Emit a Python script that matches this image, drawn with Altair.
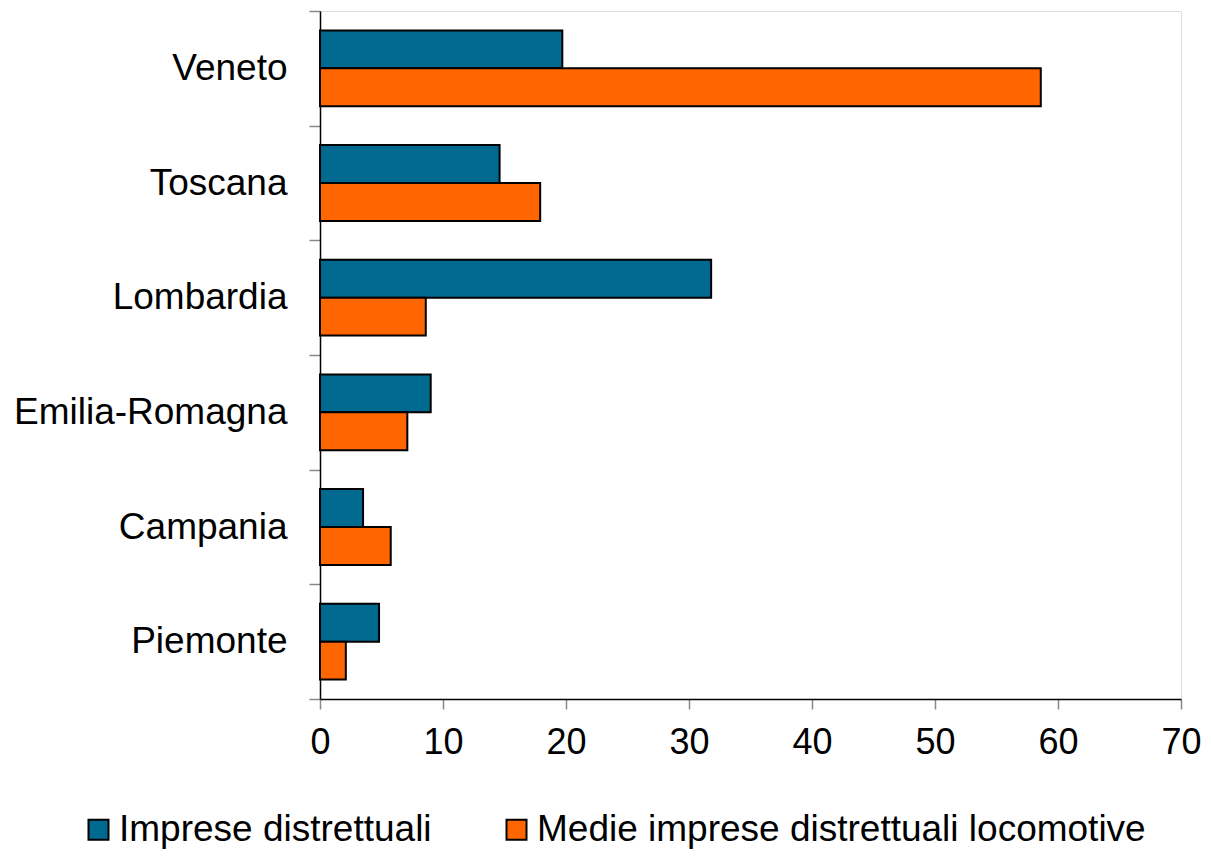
import altair as alt
import pandas as pd

regions = ["Veneto", "Toscana", "Lombardia", "Emilia-Romagna", "Campania", "Piemonte"]
series = ["Imprese distrettuali", "Medie imprese distrettuali locomotive"]
imprese = [19.7, 14.6, 31.8, 9.0, 3.5, 4.8]
medie = [58.6, 17.9, 8.6, 7.1, 5.75, 2.1]
x_ticks = [0, 10, 20, 30, 40, 50, 60, 70]
colors = ["#00698F", "#FF6600"]

rows = []
for r, a, b in zip(regions, imprese, medie):
    rows.append({"region": r, "series": series[0], "value": a})
    rows.append({"region": r, "series": series[1], "value": b})
df = pd.DataFrame(rows)

FONT = "Liberation Sans"

chart = alt.Chart(df).mark_bar(stroke="black", strokeWidth=2).encode(
    y=alt.Y("region:N", sort=regions,
            scale=alt.Scale(paddingInner=0, paddingOuter=0),
            axis=alt.Axis(title=None, tickBand="extent", domainColor="black", domainWidth=1.5,
                          tickColor="#888888", tickSize=11, tickWidth=1.5,
                          labelFontSize=37, labelColor="black", labelFont=FONT,
                          labelPadding=22, labelLimit=400)),
    yOffset=alt.YOffset("series:N", sort=series,
                        scale=alt.Scale(paddingInner=0, paddingOuter=0.513)),
    x=alt.X("value:Q", scale=alt.Scale(domain=[0, 70], nice=False),
            axis=alt.Axis(title=None, values=x_ticks, grid=False, domainColor="black",
                          domainWidth=1.5, tickColor="#888888", tickSize=10, tickWidth=1.5,
                          labelFontSize=36, labelColor="black", labelFont=FONT,
                          labelPadding=16, labelFlush=False)),
    color=alt.Color("series:N", sort=series,
                    scale=alt.Scale(domain=series, range=colors),
                    legend=alt.Legend(title=None, orient="none", direction="horizontal",
                                      legendX=-240, legendY=800,
                                      symbolType="square", symbolSize=400,
                                      symbolStrokeColor="black", symbolStrokeWidth=2,
                                      labelFontSize=37, labelFont=FONT, labelColor="black",
                                      labelOffset=2, columnPadding=66, labelLimit=800,
                                      padding=0)),
).properties(
    width=861, height=688,
    autosize=alt.AutoSizeParams(type="none"),
    padding={"left": 312, "top": 3, "right": 22, "bottom": 152},
).configure_view(strokeWidth=0, stroke="transparent").configure(background="white")

chart.save("out.html", embed_options={"renderer": "svg", "actions": False})
